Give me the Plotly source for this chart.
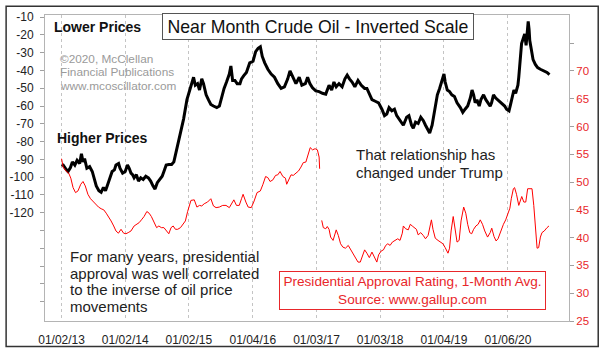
import pandas as pd
import plotly.graph_objects as go

START = "2013-01-02"

# Near-month crude oil price (USD), days since START
oil_days = [0,9,28,37,51,62,76,89,104,114,
            123,132,145,161,176,189,199,214,227,240,
            252,265,278,290,303,312,327,335,350,365,
            378,388,398,407,416,429,441,454,468,483,
            498,511,524,536,549,562,577,587,600,615,
            631,644,653,672,682,700,719,735,748,757,
            767,780,791,804,814,829,842,856,871,890,
            905,918,932,946,962,971,981,994,1007,1023,
            1032,1045,1060,1079,1098,1113,1127,1140,1151,1165,
            1183,1202,1221,1240,1259,1278,1297,1310,1325,1344,
            1363,1378,1398,1411,1424,1439,1458,1477,1496,1515,
            1534,1549,1562,1575,1591,1609,1625,1638,1651,1666,
            1682,1700,1719,1738,1751,1765,1780,1799,1818,1837,
            1852,1865,1878,1894,1909,1922,1941,1960,1979,1992,
            2007,2017,2030,2045,2060,2074,2087,2102,2111,2125,
            2139,2155,2168,2181,2193,2200,2212,2225,2238,2253,
            2268,2287,2301,2314,2329,2344,2354,2363,2372,2382,
            2395,2405,2420,2433,2446,2458,2466,2477,2490,2509,
            2528,2541,2552,2566,2575,2585,2594,2604,2617,2622,
            2632,2638,2647,2656,2664,2670,2676,2681,2685,2693,
            2704,2717,2730,2746,2764,2784,2798]
oil_price = [92.9,93.2,95.9,96.8,94.6,91.4,93.2,90.5,92.3,86.9,
             91.4,89.6,95.0,94.1,96.8,102.2,104.9,107.6,108.5,105.8,
             107.6,104.0,99.5,96.8,95.9,93.2,92.3,95.0,97.7,96.8,
             93.2,95.0,97.7,98.6,100.4,98.6,102.2,100.4,101.3,99.5,
             100.4,102.2,104.9,106.7,103.1,101.3,99.5,96.8,93.2,92.9,
             92.9,91.4,87.8,78.8,75.2,67.2,56.4,51.0,45.6,43.8,
             48.3,47.4,51.0,44.7,47.4,53.7,56.4,59.1,60.0,60.9,
             60.0,54.6,50.1,46.5,42.0,37.5,45.6,45.6,47.4,47.4,
             44.7,42.9,41.1,35.7,34.8,29.4,27.6,26.7,32.1,35.7,
             39.3,42.0,43.8,47.4,50.1,49.2,44.7,40.2,43.8,47.4,
             43.8,48.3,47.4,43.8,47.4,49.7,51.5,51.9,52.8,53.3,
             48.3,51.0,46.5,49.2,47.4,49.2,44.7,42.6,44.7,46.5,
             49.2,45.6,48.3,50.1,50.1,52.8,56.4,57.3,58.2,61.8,
             65.4,64.5,60.9,62.7,61.8,65.4,68.1,70.8,66.3,65.4,
             70.8,72.5,69.0,69.8,66.3,68.1,70.8,73.5,75.2,70.8,
             62.7,53.7,50.1,45.6,42.0,46.5,51.0,51.9,53.7,54.6,
             58.2,60.9,63.6,61.8,60.0,55.5,51.0,53.7,58.2,56.4,
             60.0,56.4,53.7,56.4,58.2,60.0,58.2,53.7,55.5,57.3,
             59.1,60.0,61.8,62.7,59.1,55.5,51.0,52.8,48.3,43.8,
             33.0,24.9,22.2,19.5,25.9,16.9,12.4,16.9,23.2,27.6,
             33.9,36.6,38.4,39.3,40.2,41.1,42.3]

# Presidential approval (Gallup, 1-month avg), days since START
obama_days = [0,9,28,41,53,66,80,94,110,123,
              136,151,166,185,199,212,227,242,256,269,
              284,299,312,326,341,356,369,382,398,416,
              432,445,458,473,489,502,515,530,545,558,
              572,587,602,615,628,640,653,666,682,696,
              710,723,729,742,761,776,791,804,818,837,
              856,871,886,905,924,943,962,975,988,1003,
              1019,1032,1041,1057,1070,1088,1102,1121,1140,1155,
              1170,1183,1196,1212,1227,1240,1253,1269,1284,1291,
              1303,1316,1329,1344,1359,1373,1386,1401,1411,1426,
              1439,1454,1467,1477,1480]
obama_approval = [54.2,52.7,51.9,51.6,50.7,49.0,48.1,48.4,49.6,50.1,
                  49.3,47.8,47.0,46.4,45.8,45.5,45.2,45.0,44.4,43.8,
                  43.0,42.1,41.2,40.8,41.5,40.8,40.7,40.9,41.2,42.1,
                  42.4,42.7,43.2,43.8,44.7,44.4,43.8,42.7,41.8,42.1,
                  41.8,41.8,41.2,40.7,41.8,42.1,41.5,41.5,41.8,42.4,
                  43.0,44.7,45.5,46.7,46.8,45.5,45.8,45.7,46.1,46.4,
                  47.0,45.7,45.4,45.5,45.8,45.8,45.4,46.1,46.8,45.8,
                  45.8,47.0,47.8,46.4,45.5,45.4,46.4,48.1,48.4,49.6,
                  51.0,50.8,50.1,50.4,51.2,51.3,51.9,51.0,50.7,49.6,
                  50.4,51.3,51.2,51.6,52.0,52.7,53.5,53.6,54.7,56.2,
                  55.8,56.0,55.8,54.5,52.4]

trump_days = [1492,1501,1515,1524,1534,1543,1557,1568,1575,1587,
              1600,1613,1628,1644,1657,1670,1685,1700,1713,1727,
              1738,1751,1765,1780,1795,1808,1818,1833,1846,1859,
              1871,1884,1897,1912,1928,1941,1954,1960,1973,1988,
              2000,2011,2022,2035,2045,2060,2074,2087,2102,2111,
              2121,2130,2143,2159,2174,2187,2200,2216,2225,2234,
              2246,2257,2268,2280,2291,2306,2318,2329,2341,2352,
              2363,2376,2389,2401,2414,2427,2443,2458,2467,2480,
              2492,2503,2518,2534,2547,2560,2571,2579,2591,2598,
              2609,2622,2632,2639,2651,2662,2673,2689,2698,2708,
              2717,2727,2736,2746,2755,2768,2784,2795]
trump_approval = [43.1,41.8,41.6,42.0,41.5,40.1,39.5,40.9,41.4,40.4,
                  38.9,38.3,38.1,38.6,37.9,37.4,36.4,35.6,35.6,37.0,
                  37.8,37.2,36.4,37.4,36.4,35.6,36.9,37.6,37.8,38.6,
                  38.9,38.6,39.2,39.5,39.8,39.5,40.8,42.1,41.6,41.4,
                  42.4,42.1,41.8,41.5,40.5,40.9,40.4,39.8,40.4,42.1,
                  43.2,41.5,39.9,39.5,39.2,38.9,38.2,37.2,38.1,41.2,
                  43.8,41.5,39.2,39.5,43.0,45.5,44.4,42.4,40.9,40.7,
                  41.5,42.1,42.4,43.2,42.4,41.2,40.1,40.9,41.7,40.2,
                  39.4,39.8,41.2,42.4,43.2,44.4,45.3,47.0,48.8,49.0,
                  47.8,45.8,46.7,47.4,46.4,46.4,48.8,48.8,48.8,45.8,
                  41.2,38.1,38.2,40.1,40.9,41.2,41.8,42.1]

x_tick_dates = ["2013-01-02", "2014-01-02", "2015-01-02", "2016-01-04",
                "2017-01-03", "2018-01-03", "2019-01-04", "2020-01-06"]
x_tick_labels = ["01/02/13", "01/02/14", "01/02/15", "01/04/16",
                 "01/03/17", "01/03/18", "01/04/19", "01/06/20"]
left_ticks = [-10, -20, -30, -40, -50, -60, -70, -80, -90, -100, -110, -120,
              -130, -140, -150, -160, -170]
left_labels = ["-10", "-20", "-30", "-40", "-50", "-60", "-70", "-80", "-90",
               "-100", "-110", "-120", "", "", "", "", ""]
right_ticks = [25, 30, 35, 40, 45, 50, 55, 60, 65, 70, 75]
right_labels = ["25", "30", "35", "40", "45", "50", "55", "60", "65", "70", ""]

assert len(oil_days) == len(oil_price)
assert len(obama_days) == len(obama_approval)
assert len(trump_days) == len(trump_approval)


def to_dates(days):
    return pd.Timestamp(START) + pd.to_timedelta(days, unit="D")


FONT = "Liberation Sans, Arial, sans-serif"
RED = "#ff0000"
RED_TXT = "#e8262a"

W, H = 600, 357
L, R, T, B = 40, 31, 10, 28
PW, PH = W - L - R, H - T - B


def px(x):
    return (x - L) / PW


def py(y):
    return (T + PH - y) / PH


fig = go.Figure()
fig.add_trace(go.Scatter(x=to_dates(oil_days), y=[-p for p in oil_price],
                         mode="lines", line=dict(color="#000000", width=3),
                         yaxis="y", showlegend=False, hoverinfo="skip"))
fig.add_trace(go.Scatter(x=to_dates(obama_days), y=obama_approval,
                         mode="lines", line=dict(color=RED, width=1),
                         yaxis="y2", showlegend=False, hoverinfo="skip"))
fig.add_trace(go.Scatter(x=to_dates(trump_days), y=trump_approval,
                         mode="lines", line=dict(color=RED, width=1),
                         yaxis="y2", showlegend=False, hoverinfo="skip"))

annotations = [
    dict(x=px(316), y=py(22), text="Near Month Crude Oil - Inverted Scale",
         font=dict(size=17.7, color="#111", family=FONT), bgcolor="white",
         bordercolor="#555", borderwidth=1, borderpad=1, width=308, height=23,
         xanchor="center", yanchor="middle"),
    dict(x=px(47.5), y=py(23), text="<b>Lower Prices</b>",
         font=dict(size=14, color="#111", family=FONT), xanchor="left", yanchor="middle"),
    dict(x=px(50.5), y=py(138), text="<b>Higher Prices</b>",
         font=dict(size=14, color="#111", family=FONT), xanchor="left", yanchor="middle"),
    dict(x=px(53), y=py(55.5), text="©2020, McClellan",
         font=dict(size=11.8, color="#9a9a9a", family=FONT), xanchor="left", yanchor="middle"),
    dict(x=px(53), y=py(69.5), text="Financial Publications",
         font=dict(size=11.8, color="#9a9a9a", family=FONT), xanchor="left", yanchor="middle"),
    dict(x=px(53), y=py(83.5), text="www.mcoscillator.com",
         font=dict(size=11.8, color="#9a9a9a", family=FONT), xanchor="left", yanchor="middle"),
    dict(x=px(352), y=py(155), text="That relationship has",
         font=dict(size=15, color="#222", family=FONT), xanchor="left", yanchor="middle"),
    dict(x=px(352), y=py(174), text="changed under Trump",
         font=dict(size=15, color="#222", family=FONT), xanchor="left", yanchor="middle"),
    dict(x=px(410.7), y=py(297.5),
         text="Presidential Approval Rating, 1-Month Avg.<br>Source: www.gallup.com",
         font=dict(size=13.6, color=RED_TXT, family=FONT), bgcolor="white",
         bordercolor="#e8262a", borderwidth=1, borderpad=1, width=263, height=35,
         xanchor="center", yanchor="middle"),
]
for txt, yy in [("For many years, presidential", 262),
                ("approval was well correlated", 279.3),
                ("to the inverse of oil price", 296.6),
                ("movements", 313.9)]:
    annotations.append(dict(x=px(63), y=py(yy), text=txt,
                            font=dict(size=15, color="#222", family=FONT),
                            xanchor="left", yanchor="middle"))

for a in annotations:
    a.update(xref="paper", yref="paper", showarrow=False)

fig.update_layout(
    width=W, height=H,
    margin=dict(l=L, r=R, t=T, b=B, pad=0),
    paper_bgcolor="white", plot_bgcolor="white",
    font=dict(family=FONT, size=12, color="#222"),
    showlegend=False,
    xaxis=dict(type="date", range=["2012-09-29", "2020-12-21"],
               tickmode="array", tickvals=x_tick_dates, ticktext=x_tick_labels,
               showgrid=True, gridcolor="#c4c4c4", griddash="dot", gridwidth=1,
               showline=True, linecolor="#b4b4b4", linewidth=1, mirror=True,
               ticks="outside", ticklen=8, tickcolor="rgba(0,0,0,0)",
               tickfont=dict(size=12, color="#222", family=FONT), zeroline=False),
    yaxis=dict(range=[-180.9, -8.8], tickmode="array", tickvals=left_ticks,
               ticktext=left_labels, ticks="outside", ticklen=4, tickcolor="#a0a0a0",
               ticklabelstandoff=4,
               showgrid=False, zeroline=False, showline=True, linecolor="#b4b4b4",
               linewidth=1, mirror=True,
               tickfont=dict(size=12, color="#222", family=FONT)),
    yaxis2=dict(range=[25, 80.06], overlaying="y", side="right", tickmode="array",
                tickvals=right_ticks, ticktext=right_labels, ticks="outside",
                ticklen=4, tickcolor="#a0a0a0", showgrid=False, zeroline=False,
                showline=False,
                tickfont=dict(size=11.5, color=RED_TXT, family=FONT)),
    annotations=annotations,
    shapes=[dict(type="rect", xref="paper", yref="paper",
                 x0=px(0.75), x1=px(598.5), y0=py(355.5), y1=py(0.75),
                 line=dict(color="#333", width=1.5), fillcolor="rgba(0,0,0,0)",
                 layer="above")],
)

fig.write_html("out.html",
               config={"displayModeBar": False},
               post_script="document.body.style.margin='0';"
                           "document.body.style.overflow='hidden';")
